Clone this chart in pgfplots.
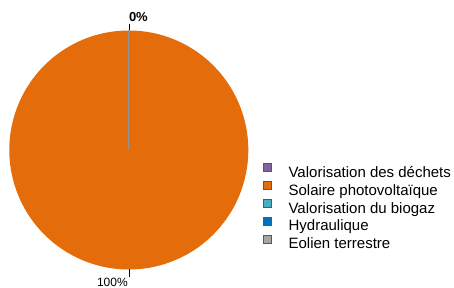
\documentclass[border=0pt]{standalone}
\usepackage{fontspec}
\setmainfont{Liberation Sans}
\usepackage{pgfplots}
\pgfplotsset{compat=1.18}
\definecolor{cDechets}{HTML}{8064A2}
\definecolor{cSolaire}{HTML}{E46C0A}
\definecolor{cBiogaz}{HTML}{4BACC6}
\definecolor{cHydro}{HTML}{0070C0}
\definecolor{cEolien}{HTML}{A5A5A5}
\begin{document}
\begin{tikzpicture}
\useasboundingbox (-9.3pt,-18.5pt) rectangle (444.7pt,269.5pt);
\begin{axis}[
  at={(0,0)}, anchor=south west,
  scale only axis, width=239pt, height=239pt,
  xmin=-1, xmax=1, ymin=-1, ymax=1,
  hide axis, clip=false,
  legend style={at={(1.0615,0.445)}, anchor=north west, draw=none, fill=none,
    font=\fontsize{15}{17.6}\selectfont, inner sep=0pt, outer sep=0pt,
    nodes={inner sep=0pt}, column sep=17pt, row sep=2.3pt},
  legend cell align=left,
  legend image code/.code={\draw[#1, draw=black!65, line width=0.6pt] (0pt,0.4pt) rectangle (8pt,8.4pt);},
]
% shares (%): Valorisation des dechets 0, Solaire photovoltaique 100, Valorisation du biogaz 0, Hydraulique 0, Eolien terrestre 0
% Solaire photovoltaique: 100% -> full turn, clockwise from 12 o'clock
\addplot[forget plot, draw=none, fill=cSolaire, data cs=polar, domain=90:-270, samples=361] (x,1);
% zero-width slices at 12 o'clock
\addplot[forget plot, color=cEolien!90!black, line width=0.9pt] coordinates {(0,0) (0,1)};
% leader lines
\addplot[forget plot, black, line width=0.5pt] coordinates {(0,1) (0,1.054)};
\addplot[forget plot, black, line width=0.5pt] coordinates {(0,-1) (0,-1.063)};
\node[anchor=base west, inner sep=0pt, font=\fontsize{13}{15}\selectfont\bfseries] at (axis cs:0.0,1.074) {0\%};
\node[anchor=base east, inner sep=0pt, font=\fontsize{12}{14}\selectfont] at (axis cs:-0.007,-1.146) {100\%};
\addlegendimage{fill=cDechets}
\addlegendentry{\strut Valorisation des déchets}
\addlegendimage{fill=cSolaire}
\addlegendentry{\strut Solaire photovoltaïque}
\addlegendimage{fill=cBiogaz}
\addlegendentry{\strut Valorisation du biogaz}
\addlegendimage{fill=cHydro}
\addlegendentry{\strut Hydraulique}
\addlegendimage{fill=cEolien}
\addlegendentry{\strut Eolien terrestre}
\end{axis}
\end{tikzpicture}
\end{document}
